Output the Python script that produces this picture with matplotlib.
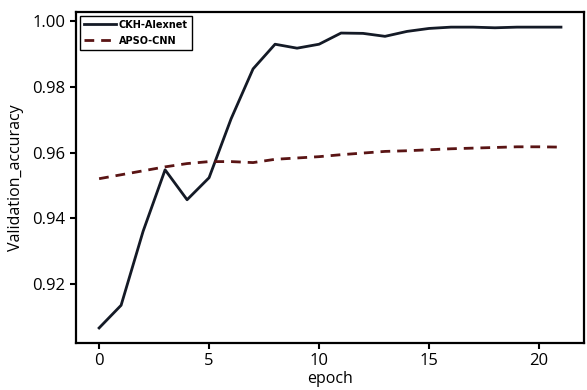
import numpy as np
import matplotlib
matplotlib.use("Agg")
import matplotlib.pyplot as plt

plt.rcParams['font.family'] = ['Open Sans', 'DejaVu Sans']

epochs = np.arange(22)
ckh_alexnet = [0.9067, 0.9136, 0.9361, 0.9548, 0.9457, 0.9524, 0.9703, 0.9855,
               0.9930, 0.9918, 0.9930, 0.9964, 0.9963, 0.9954, 0.9969, 0.9978,
               0.9982, 0.9982, 0.9980, 0.9982, 0.9982, 0.9982]
apso_cnn = [0.9521, 0.9533, 0.9545, 0.9557, 0.9567, 0.9573, 0.9573, 0.9570,
            0.9580, 0.9584, 0.9588, 0.9594, 0.9599, 0.9604, 0.9606, 0.9609,
            0.9612, 0.9614, 0.9616, 0.9618, 0.9618, 0.9617]

fig = plt.figure(figsize=(5.87, 3.90), dpi=100)
ax = fig.add_axes([0.1295, 0.1205, 0.8655, 0.8485])

ax.plot(epochs, ckh_alexnet, color="#141a26", lw=2, label="CKH-Alexnet")
ax.plot(epochs, apso_cnn, color="#5a1414", lw=2, ls=(0, (3.5, 2.5)), label="APSO-CNN")

ax.set_yticks([0.92, 0.94, 0.96, 0.98, 1.00])
ax.set_xticks([0, 5, 10, 15, 20])
ax.tick_params(labelsize=12, width=1.5, length=4)
for s in ax.spines.values():
    s.set_linewidth(1.6)

ax.set_xlabel("epoch", fontsize=11.5, labelpad=1)
ax.set_ylabel("Validation_accuracy", fontsize=11.5, labelpad=6)

leg = ax.legend(loc="upper left", prop={"family": "DejaVu Sans", "size": 7, "weight": "bold"},
                fancybox=False, edgecolor="black", framealpha=1, borderaxespad=0.4,
                handlelength=3.3, handletextpad=0.3, labelspacing=0.6)
leg.get_frame().set_linewidth(1.0)

fig.savefig("out.png", dpi=100)
